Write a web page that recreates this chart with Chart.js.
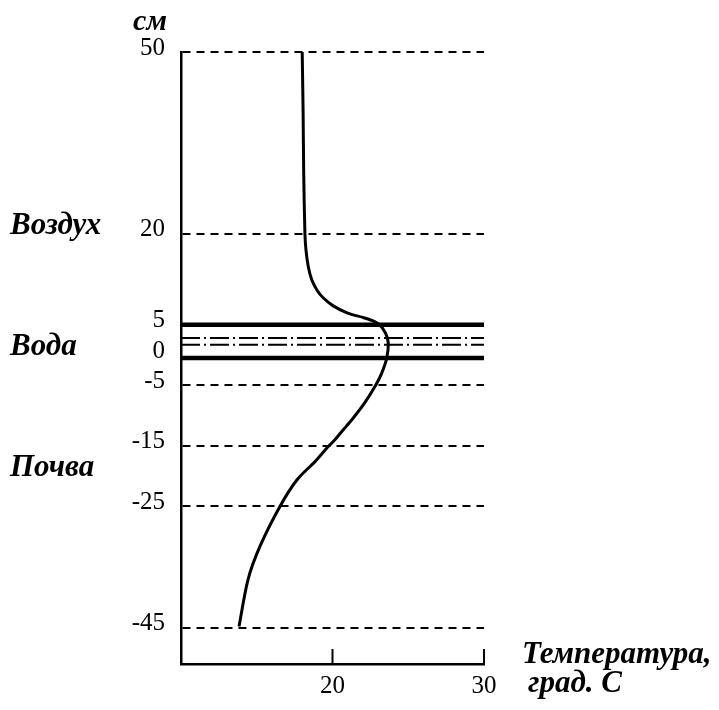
<!DOCTYPE html>
<html>
<head>
<meta charset="utf-8">
<script src="https://cdn.jsdelivr.net/npm/chart.js@4"></script>
<style>
  html, body { margin: 0; padding: 0; background: #fff; }
  #wrap { width: 719px; height: 710px; }
</style>
</head>
<body>
<div id="wrap"><canvas id="c" width="719" height="710"></canvas></div>
<script>
// Temperature profile through air, water and soil (depth in cm, temperature in °C)
const depthTicks = [50, 20, 5, 0, -5, -15, -25, -45];
const tempTicks = [10, 20, 30];
const profileTemp = [
  18.0, 18.06, 18.1, 18.18, 18.25, 18.4, 18.63, 19.0, 19.4, 20.05, 21.0, 22.0, 22.6, 23.1,
  23.5, 23.68, 23.58, 23.25, 22.85, 22.1, 21.37, 20.71, 20.05, 19.72, 19.06, 18.85,
  17.66, 16.53, 15.21, 14.42, 13.83
];
const profileDepth = [
  50, 40, 30, 20, 17.3, 14.6, 12.4, 10.6, 9.4, 8.1, 6.9, 6.2, 5.7, 5.0,
  3.6, 2.0, -0.5, -3.0, -5.0, -8.0, -10.4, -12.35, -14.3, -15.1, -17.0, -17.6,
  -20.6, -25.0, -31.6, -37.1, -44.8
];
const waterBounds = [5, -0.5];   // surface and bottom of the water layer
const waterMarks = [2.8, 1.7];   // dash-dot lines inside the water layer
const zoneNames = ['Воздух', 'Вода', 'Почва'];
const zoneDepths = [20, 0, -20];

const SERIF = '"Liberation Serif", "Times New Roman", serif';

const across = depth => [{ x: tempTicks[0], y: depth }, { x: tempTicks[tempTicks.length - 1], y: depth }];
const inWater = v => v <= Math.max(...waterBounds) && v >= Math.min(...waterBounds);

const datasets = [
  {
    data: profileTemp.map((t, i) => ({ x: t, y: profileDepth[i] })),
    borderColor: '#000', borderWidth: 3, tension: 0.3, pointRadius: 0, clip: false
  },
  ...waterBounds.map(d => ({
    data: across(d), borderColor: '#000', borderWidth: 4.5, pointRadius: 0, clip: false
  })),
  ...waterMarks.map(d => ({
    data: across(d), borderColor: '#000', borderWidth: 2, borderDash: [19, 4, 2, 4], pointRadius: 0
  }))
];

const decor = {
  id: 'decor',
  afterDraw(chart) {
    const { ctx, scales: { x, y } } = chart;
    ctx.save();
    // tick marks standing up from the temperature axis
    ctx.strokeStyle = '#000';
    ctx.lineWidth = 2;
    tempTicks.slice(1).forEach(v => {
      const px = x.getPixelForValue(v);
      ctx.beginPath();
      ctx.moveTo(px, x.top);
      ctx.lineTo(px, x.top - 15);
      ctx.stroke();
    });
    // zone names and axis captions
    ctx.fillStyle = '#000';
    ctx.font = 'bold italic 31px ' + SERIF;
    ctx.textAlign = 'left';
    ctx.textBaseline = 'alphabetic';
    zoneNames.forEach((n, i) => ctx.fillText(n, 10, y.getPixelForValue(zoneDepths[i])));
    ctx.fillText('Температура,', 522, 663);
    ctx.fillText('град. С', 528, 692);
    ctx.font = 'bold italic 30px ' + SERIF;
    ctx.textAlign = 'center';
    ctx.fillText('см', 150, 30);
    ctx.restore();
  }
};

new Chart(document.getElementById('c'), {
  type: 'line',
  data: { datasets },
  options: {
    responsive: false,
    animation: false,
    devicePixelRatio: 1,
    layout: { padding: { top: 52, right: 235, bottom: 0, left: 0 } },
    plugins: { legend: { display: false }, tooltip: { enabled: false } },
    scales: {
      x: {
        type: 'linear', min: tempTicks[0], max: tempTicks[tempTicks.length - 1],
        afterBuildTicks: s => { s.ticks = tempTicks.map(v => ({ value: v })); },
        afterFit: s => { s.height = 46; },
        grid: { display: false },
        border: { display: true, color: '#000', width: 2.5 },
        ticks: {
          color: '#000', font: { family: SERIF, size: 25 }, padding: -1,
          maxRotation: 0, autoSkip: false,
          callback: v => (v === tempTicks[0] ? '' : String(v))
        }
      },
      y: {
        type: 'linear', min: -51, max: 50,
        afterBuildTicks: s => { s.ticks = depthTicks.map(v => ({ value: v })); },
        afterFit: s => { s.width = 181; },
        grid: {
          drawTicks: false, lineWidth: 2,
          color: c => (c.tick && inWater(c.tick.value) ? 'rgba(0,0,0,0)' : '#000')
        },
        border: { display: true, color: '#000', width: 2.5, dash: [8, 6] },
        ticks: {
          color: '#000', font: { family: SERIF, size: 25 }, padding: 16,
          labelOffset: -4, autoSkip: false,
          callback: v => String(v)
        }
      }
    }
  },
  plugins: [decor]
});
</script>
</body>
</html>
